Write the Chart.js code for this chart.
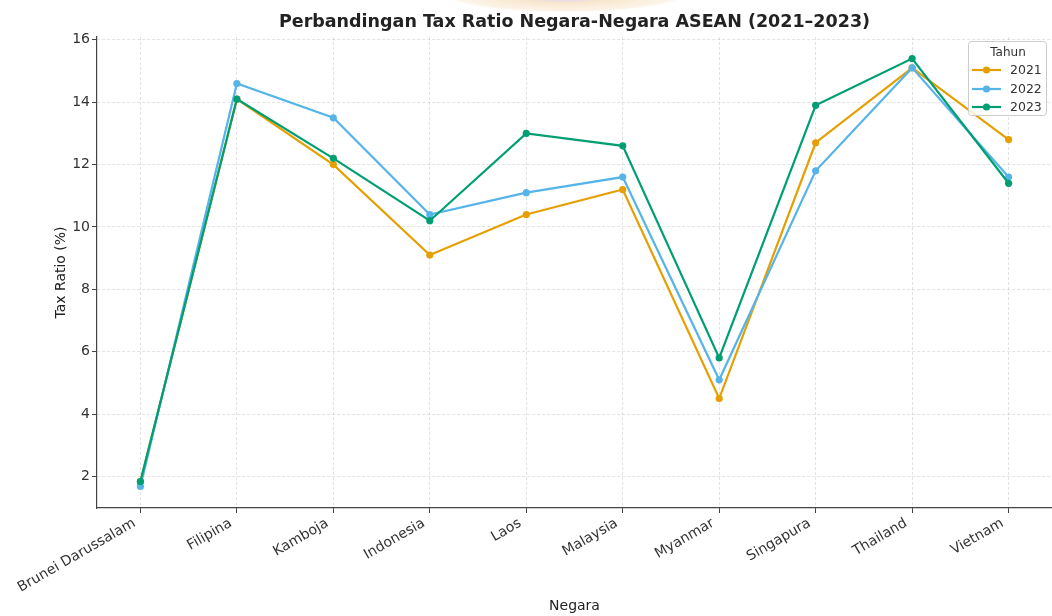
<!DOCTYPE html>
<html>
<head>
<meta charset="utf-8">
<script src="https://cdn.jsdelivr.net/npm/chart.js@4"></script>
<style>
  html, body { margin: 0; padding: 0; background: #ffffff; }
  #wrap { width: 1052px; height: 616px; }
</style>
</head>
<body>
<div id="wrap"><canvas id="c" width="1052" height="616"></canvas></div>
<script>
const categories = ['Brunei Darussalam', 'Filipina', 'Kamboja', 'Indonesia', 'Laos', 'Malaysia', 'Myanmar', 'Singapura', 'Thailand', 'Vietnam'];
const years = ['2021', '2022', '2023'];
const tax2021 = [1.84, 14.1, 12.0, 9.1, 10.4, 11.2, 4.5, 12.7, 15.1, 12.8];
const tax2022 = [1.68, 14.6, 13.5, 10.4, 11.1, 11.6, 5.1, 11.8, 15.1, 11.6];
const tax2023 = [1.84, 14.1, 12.2, 10.2, 13.0, 12.6, 5.8, 13.9, 15.4, 11.4];
const yTicks = [2, 4, 6, 8, 10, 12, 14, 16];
const colors = ['#E69F00', '#56B4E9', '#009E73'];
const FONT = "'DejaVu Sans', 'Liberation Sans', sans-serif";

const seriesList = [tax2021, tax2022, tax2023];
const datasets = seriesList.map((vals, k) => ({
  label: years[k],
  data: vals.map((v, i) => ({ x: i, y: v })),
  borderColor: colors[k],
  backgroundColor: colors[k],
  borderWidth: 2.2,
  pointRadius: 3.6,
  pointHoverRadius: 3.6,
  pointBorderWidth: 0,
  tension: 0,
  clip: false,
  order: 3 - k
}));

const watermark = {
  id: 'watermark',
  beforeDraw(chart) {
    const ctx = chart.ctx;
    ctx.save();
    ctx.translate(565, -6);
    ctx.scale(1, 0.15);
    const g = ctx.createRadialGradient(0, 0, 0, 0, 0, 125);
    g.addColorStop(0, 'rgba(150,140,230,0.45)');
    g.addColorStop(0.3, 'rgba(170,150,220,0.35)');
    g.addColorStop(0.45, 'rgba(235,180,110,0.35)');
    g.addColorStop(0.9, 'rgba(240,200,140,0.2)');
    g.addColorStop(1, 'rgba(255,255,255,0)');
    ctx.fillStyle = g;
    ctx.beginPath();
    ctx.arc(0, 0, 125, 0, Math.PI * 2);
    ctx.fill();
    ctx.restore();
  }
};

const legendBox = {
  id: 'legendBox',
  afterDraw(chart) {
    const ctx = chart.ctx;
    ctx.save();
    const x = 968.5, y = 41.5, w = 78, h = 74, r = 3;
    ctx.beginPath();
    ctx.moveTo(x + r, y);
    ctx.lineTo(x + w - r, y);
    ctx.quadraticCurveTo(x + w, y, x + w, y + r);
    ctx.lineTo(x + w, y + h - r);
    ctx.quadraticCurveTo(x + w, y + h, x + w - r, y + h);
    ctx.lineTo(x + r, y + h);
    ctx.quadraticCurveTo(x, y + h, x, y + h - r);
    ctx.lineTo(x, y + r);
    ctx.quadraticCurveTo(x, y, x + r, y);
    ctx.closePath();
    ctx.fillStyle = 'rgba(255,255,255,0.8)';
    ctx.fill();
    ctx.strokeStyle = '#cccccc';
    ctx.lineWidth = 1;
    ctx.stroke();
    ctx.fillStyle = '#333333';
    ctx.font = '12px ' + FONT;
    ctx.textAlign = 'center';
    ctx.textBaseline = 'middle';
    ctx.fillText('Tahun', 1008, 53);
    ctx.textAlign = 'left';
    const rows = [70, 89, 107];
    years.forEach((yr, k) => {
      const yy = rows[k];
      ctx.strokeStyle = colors[k];
      ctx.lineWidth = 2.2;
      ctx.beginPath();
      ctx.moveTo(972, yy);
      ctx.lineTo(1001, yy);
      ctx.stroke();
      ctx.fillStyle = colors[k];
      ctx.beginPath();
      ctx.arc(986.5, yy, 3.6, 0, Math.PI * 2);
      ctx.fill();
      ctx.fillStyle = '#333333';
      ctx.font = '12.5px ' + FONT;
      ctx.fillText(yr, 1010, yy + 1);
    });
    ctx.restore();
  }
};

new Chart(document.getElementById('c'), {
  type: 'line',
  data: { datasets },
  plugins: [watermark, legendBox],
  options: {
    responsive: false,
    animation: false,
    devicePixelRatio: 1,
    layout: { autoPadding: false, padding: { left: 0, right: 0, top: 0, bottom: 0 } },
    plugins: {
      legend: { display: false },
      tooltip: { enabled: false },
      title: {
        display: true,
        fullSize: false,
        text: 'Perbandingan Tax Ratio Negara-Negara ASEAN (2021–2023)',
        color: '#222222',
        font: { family: FONT, size: 17.5, weight: 'bold' },
        padding: { top: 12, bottom: 4 }
      }
    },
    scales: {
      x: {
        type: 'linear',
        min: -0.45,
        max: 9.45,
        afterBuildTicks(scale) { scale.ticks = categories.map((_, i) => ({ value: i })); },
        afterFit(scale) { scale.height = 108; scale.paddingRight = 0; scale.paddingLeft = 0; },
        ticks: {
          autoSkip: false,
          minRotation: 30,
          maxRotation: 30,
          padding: 2,
          labelOffset: -6,
          color: '#333333',
          font: { family: FONT, size: 14 },
          callback: (v) => categories[v]
        },
        grid: {
          color: 'rgba(0,0,0,0.14)',
          lineWidth: 0.8,
          tickLength: 5,
          tickColor: '#444444',
          tickWidth: 1,
          tickBorderDash: []
        },
        border: { display: true, color: '#444444', width: 1.2, dash: [3, 2] },
        title: {
          display: true,
          text: 'Negara',
          color: '#222222',
          font: { family: FONT, size: 14 },
          padding: { top: 0, bottom: 1 }
        }
      },
      y: {
        type: 'linear',
        min: 0.99,
        max: 16.09,
        afterBuildTicks(scale) { scale.ticks = yTicks.map(v => ({ value: v })); },
        afterFit(scale) { scale.width = 97; scale.paddingTop = 0; scale.paddingBottom = 0; },
        ticks: {
          padding: 2,
          color: '#333333',
          font: { family: FONT, size: 14 }
        },
        grid: {
          color: 'rgba(0,0,0,0.14)',
          lineWidth: 0.8,
          tickLength: 5,
          tickColor: '#444444',
          tickWidth: 1,
          tickBorderDash: []
        },
        border: { display: true, color: '#444444', width: 1.2, dash: [3, 2] },
        title: {
          display: true,
          text: 'Tax Ratio (%)',
          color: '#222222',
          font: { family: FONT, size: 14 },
          padding: { top: 53, bottom: 0 }
        }
      }
    }
  }
});
</script>
</body>
</html>
